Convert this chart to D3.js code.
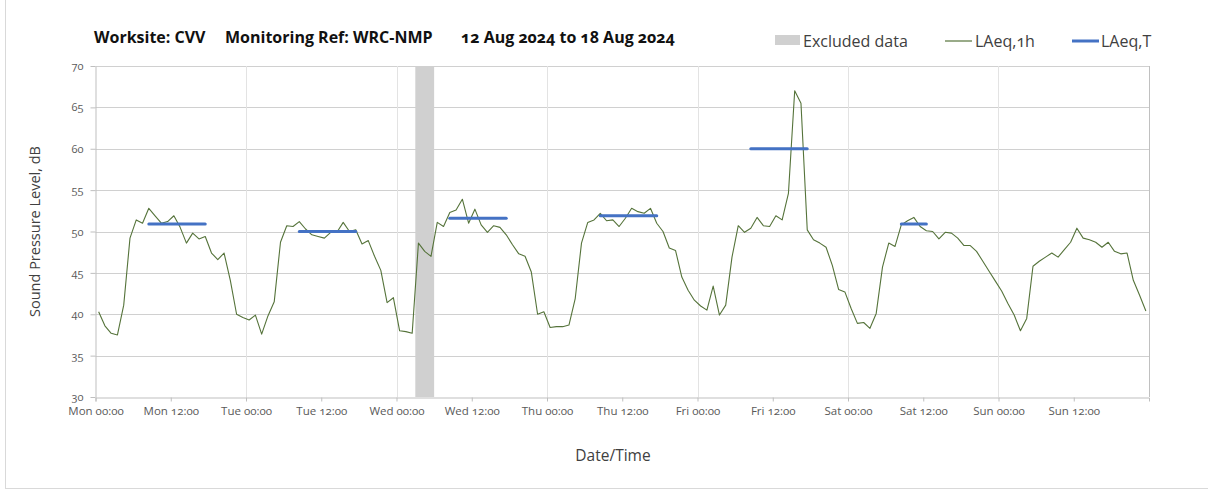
<!DOCTYPE html>
<html>
<head>
<meta charset="utf-8">
<script src="https://cdn.jsdelivr.net/npm/d3@7"></script>
<style>
  html, body { margin: 0; padding: 0; background: #fff; }
  svg { display: block; font-family: "Open Sans", "Noto Sans", sans-serif; font-variant-numeric: oldstyle-nums; }
</style>
</head>
<body>
<svg id="chart" width="1208" height="492"></svg>
<script>
// ---------- data ----------
const titleParts = ["Worksite: CVV", "Monitoring Ref: WRC-NMP", "12 Aug 2024 to 18 Aug 2024"];
const xTickLabels = ["Mon 00:00","Mon 12:00","Tue 00:00","Tue 12:00","Wed 00:00","Wed 12:00",
                     "Thu 00:00","Thu 12:00","Fri 00:00","Fri 12:00","Sat 00:00","Sat 12:00",
                     "Sun 00:00","Sun 12:00"];
const xTickHours = [0,12,24,36,48,60,72,84,96,108,120,132,144,156];
const dayBoundaryHours = [24,48,72,96,120,144,168];
const yTicks = [30,35,40,45,50,55,60,65,70];

// hourly LAeq,1h values, Mon 00:00 .. Sun 23:00
const laeq1hMon = [40.3,38.6,37.7,37.5,41.1,49.2,51.4,51.0,52.8,51.9,51.0,51.2,51.9,50.5,48.6,49.8,49.1,49.4,47.4,46.6,47.4,44.1,40.0,39.6];
const laeq1hTue = [39.3,39.9,37.6,39.8,41.5,48.7,50.7,50.6,51.2,50.3,49.6,49.4,49.2,49.9,49.9,51.1,50.0,50.2,48.5,48.9,47.0,45.3,41.4,42.0];
const laeq1hWed = [38.0,37.9,37.7,48.6,47.6,47.0,51.1,50.6,52.3,52.6,53.9,51.0,52.7,50.8,49.9,50.7,50.5,49.6,48.4,47.3,47.0,45.1,40.0,40.3];
const laeq1hThu = [38.4,38.5,38.5,38.7,41.9,48.6,51.1,51.4,52.2,51.3,51.4,50.6,51.6,52.8,52.4,52.2,52.8,51.0,50.0,48.0,47.7,44.5,42.9,41.7];
const laeq1hFri = [41.0,40.5,43.4,39.9,41.1,46.9,50.7,49.9,50.4,51.7,50.7,50.6,51.9,51.4,54.6,67.0,65.5,50.2,49.0,48.6,48.1,45.9,43.0,42.7];
const laeq1hSat = [40.7,38.9,39.0,38.3,40.1,45.7,48.6,48.2,50.8,51.3,51.7,50.6,50.1,50.0,49.1,49.9,49.8,49.2,48.3,48.3,47.6,46.4,45.2,44.0];
const laeq1hSun = [42.8,41.3,39.9,38.0,39.5,45.8,46.4,46.9,47.4,46.9,47.8,48.7,50.4,49.2,49.0,48.7,48.1,48.7,47.6,47.3,47.4,44.1,42.3,40.4];

// LAeq,T periods (hours from Mon 00:00)
const laeqTStart = [8, 32, 56, 80, 104, 128];
const laeqTEnd   = [17, 41, 65, 89, 113, 132];
const laeqTValue = [50.9, 50.0, 51.6, 51.9, 60.0, 50.9];

// excluded data period (hours from Mon 00:00)
const excludedStart = [51];
const excludedEnd   = [54];

const legendLabels = ["Excluded data", "LAeq,1h", "LAeq,T"];
const yTitle = "Sound Pressure Level, dB";
const xTitle = "Date/Time";

// ---------- build ----------
const laeq1h = [].concat(laeq1hMon, laeq1hTue, laeq1hWed, laeq1hThu, laeq1hFri, laeq1hSat, laeq1hSun);
const series = laeq1h.map((v, i) => ({ h: i + 0.5, v }));

const svg = d3.select("#chart");
const W = 1208, H = 492;
const m = { left: 95.5, right: 1149, top: 66, bottom: 397 };

const x = d3.scaleLinear().domain([0, 168]).range([m.left, m.right]);
const y = d3.scaleLinear().domain([30, 70]).range([m.bottom, m.top]);

const textCol = "#404040";
const tickCol = "#595959";

// outer frame
svg.append("rect").attr("x", 5.5).attr("y", -2).attr("width", W + 4).attr("height", 490.5)
  .attr("fill", "none").attr("stroke", "#d9d9d9");

// horizontal gridlines
svg.append("g").selectAll("line").data(yTicks.filter(d => d > 30)).join("line")
  .attr("x1", m.left).attr("x2", m.right)
  .attr("y1", d => Math.round(y(d)) + 0.5).attr("y2", d => Math.round(y(d)) + 0.5)
  .attr("stroke", "#d0d0d0").attr("stroke-width", 1);

// vertical day gridlines
svg.append("g").selectAll("line").data(dayBoundaryHours).join("line")
  .attr("x1", d => Math.round(x(d)) + 0.5).attr("x2", d => Math.round(x(d)) + 0.5)
  .attr("y1", m.top).attr("y2", m.bottom)
  .attr("stroke", d => d === 168 ? "#c0c0c0" : "#e3e3e3").attr("stroke-width", 1);

// excluded band
svg.append("g").selectAll("rect").data(excludedStart.map((s, i) => [s, excludedEnd[i]])).join("rect")
  .attr("x", d => x(d[0])).attr("width", d => x(d[1]) - x(d[0]))
  .attr("y", m.top).attr("height", m.bottom - m.top)
  .attr("fill", "#d0d0d0");

// x axis
const xAxis = d3.axisBottom(x).tickValues(xTickHours)
  .tickFormat((d, i) => xTickLabels[i]).tickSizeInner(4).tickSizeOuter(4).tickPadding(5);
const gx = svg.append("g").attr("transform", `translate(0,${m.bottom + 0.5})`).call(xAxis);
gx.select(".domain").attr("stroke", "#bfbfbf");
gx.selectAll(".tick line").attr("stroke", "#bfbfbf");
gx.selectAll(".tick text").attr("fill", tickCol).style("font-size", "11.5px")
  .style("font-family", "'Open Sans', sans-serif");

// y axis
const yAxis = d3.axisLeft(y).tickValues(yTicks).tickSizeInner(5).tickSizeOuter(0).tickPadding(7);
const gy = svg.append("g").attr("transform", `translate(${m.left},0)`).call(yAxis);
gy.select(".domain").attr("stroke", "#bfbfbf");
gy.selectAll(".tick line").attr("stroke", "#bfbfbf");
gy.selectAll(".tick text").attr("fill", tickCol).style("font-size", "11px")
  .style("font-family", "'Open Sans', sans-serif");

// LAeq,1h line
const line = d3.line().x(d => x(d.h)).y(d => y(d.v));
svg.append("path").datum(series)
  .attr("d", line).attr("fill", "none")
  .attr("stroke", "#55733a").attr("stroke-width", 1.1).attr("stroke-linejoin", "round");

// LAeq,T segments
svg.append("g").selectAll("line").data(laeqTStart.map((s, i) => ({ s, e: laeqTEnd[i], v: laeqTValue[i] }))).join("line")
  .attr("x1", d => x(d.s + 0.5)).attr("x2", d => x(d.e + 0.5))
  .attr("y1", d => y(d.v)).attr("y2", d => y(d.v))
  .attr("stroke", "#4472c4").attr("stroke-width", 3).attr("stroke-linecap", "round");

// title
const titleX = [94, 225, 461];
svg.append("g").selectAll("text").data(titleParts).join("text")
  .attr("x", (d, i) => titleX[i]).attr("y", 43)
  .attr("fill", "#111").style("font-size", "16px").style("font-weight", "700")
  .text(d => d);

// legend
const lg = svg.append("g");
lg.append("rect").attr("x", 775).attr("y", 35).attr("width", 25).attr("height", 10).attr("fill", "#d0d0d0");
lg.append("line").attr("x1", 945).attr("x2", 972).attr("y1", 41).attr("y2", 41)
  .attr("stroke", "#55733a").attr("stroke-width", 1.2);
lg.append("line").attr("x1", 1072).attr("x2", 1099).attr("y1", 41).attr("y2", 41)
  .attr("stroke", "#4472c4").attr("stroke-width", 3);
const legX = [803, 975, 1101];
lg.selectAll("text").data(legendLabels).join("text")
  .attr("x", (d, i) => legX[i]).attr("y", 47)
  .attr("fill", textCol).style("font-size", "16px")
  .text(d => d);

// axis titles
svg.append("text").attr("transform", `translate(40,${(m.top + m.bottom) / 2}) rotate(-90)`)
  .attr("text-anchor", "middle").attr("fill", textCol).style("font-size", "14.5px")
  .text(yTitle);
svg.append("text").attr("x", 613).attr("y", 461).attr("text-anchor", "middle")
  .attr("fill", textCol).style("font-size", "15.5px").text(xTitle);
</script>
</body>
</html>
